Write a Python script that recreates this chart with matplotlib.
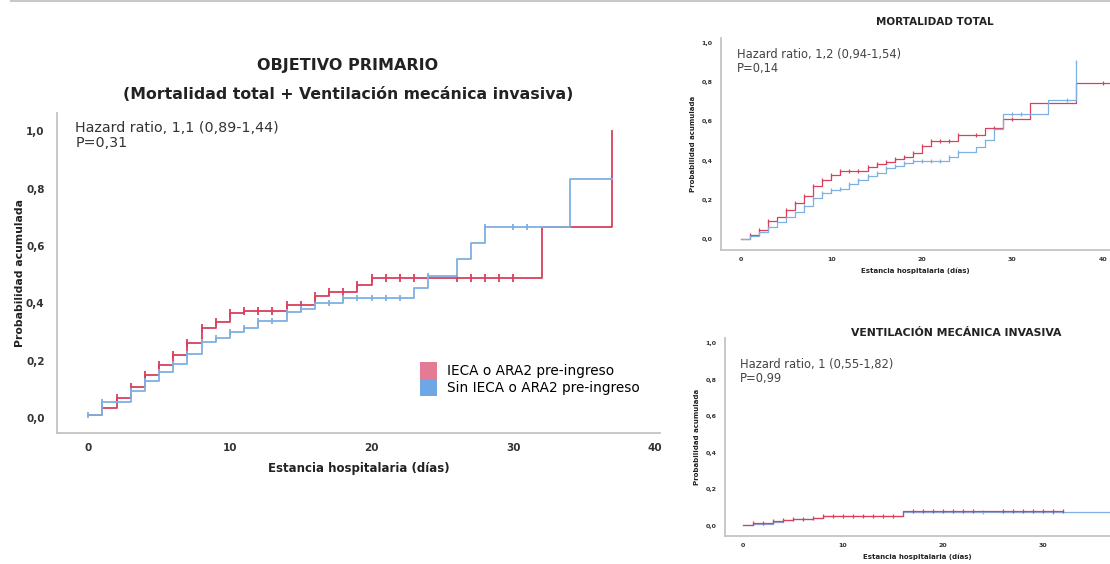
import matplotlib
matplotlib.use("Agg")
import matplotlib.pyplot as plt
from matplotlib.patches import Patch
from matplotlib.lines import Line2D

# --- data ---
# Objetivo primario: mortalidad total + ventilacion mecanica invasiva
prim_red_t = [0, 1, 2, 3, 4, 5, 6, 7, 8, 9, 10, 11, 14, 16, 17, 19, 20, 32, 37]
prim_red_s = [0.012, 0.035, 0.07, 0.11, 0.15, 0.185, 0.22, 0.26, 0.315, 0.335,
              0.365, 0.375, 0.395, 0.425, 0.44, 0.465, 0.49, 0.665, 1.0]
prim_red_cens = [1, 2, 3, 4, 5, 6, 7, 8, 9, 10, 11, 12, 13, 14, 15, 16, 17, 18,
                 19, 20, 21, 22, 23, 26, 27, 28, 29, 30]
prim_blue_t = [0, 1, 3, 4, 5, 6, 7, 8, 9, 10, 11, 12, 14, 15, 16, 18, 23, 24,
               26, 27, 28, 34, 37]
prim_blue_s = [0.012, 0.055, 0.095, 0.13, 0.16, 0.19, 0.225, 0.265, 0.28, 0.30,
               0.315, 0.34, 0.37, 0.38, 0.40, 0.42, 0.455, 0.495, 0.555, 0.61,
               0.665, 0.835, 0.835]
prim_blue_cens = [0, 1, 3, 4, 5, 6, 7, 8, 9, 10, 11, 12, 13, 14, 15, 17, 18,
                  19, 20, 21, 22, 24, 28, 30, 31]

# Mortalidad total
mort_red_t = [0, 1, 2, 3, 4, 5, 6, 7, 8, 9, 10, 11, 14, 15, 16, 17, 18, 19, 20,
              21, 24, 27, 29, 32, 37, 41.5]
mort_red_s = [0.0, 0.02, 0.045, 0.09, 0.115, 0.15, 0.185, 0.22, 0.27, 0.30,
              0.325, 0.345, 0.37, 0.385, 0.395, 0.41, 0.42, 0.44, 0.475, 0.50,
              0.53, 0.565, 0.615, 0.695, 0.795, 0.795]
mort_red_cens = [1, 2, 3, 5, 6, 7, 8, 9, 10, 11, 12, 13, 14, 15, 16, 17, 18, 19,
                 20, 21, 22, 23, 24, 26, 28, 30, 40, 41]
mort_blue_t = [0, 1, 2, 3, 4, 5, 6, 7, 8, 9, 10, 11, 12, 13, 14, 15, 16, 17, 18,
               19, 23, 24, 26, 27, 28, 29, 34, 37]
mort_blue_s = [0.0, 0.015, 0.035, 0.06, 0.085, 0.11, 0.14, 0.17, 0.21, 0.235,
               0.25, 0.255, 0.28, 0.30, 0.32, 0.335, 0.36, 0.375, 0.39, 0.40,
               0.42, 0.445, 0.47, 0.505, 0.56, 0.64, 0.71, 0.905]
mort_blue_cens = [7, 8, 9, 10, 11, 12, 13, 14, 15, 16, 17, 18, 19, 20, 21, 22,
                  23, 24, 30, 31, 36, 37]

# Ventilacion mecanica invasiva
vent_red_t = [0, 1, 3, 4, 5, 7, 8, 16, 32]
vent_red_s = [0.005, 0.015, 0.025, 0.035, 0.04, 0.045, 0.055, 0.083, 0.083]
vent_red_cens = [1, 2, 3, 4, 5, 6, 7, 8, 9, 10, 11, 12, 13, 14, 15, 17, 18, 19,
                 20, 21, 22, 23, 26, 27, 28, 29, 30, 31, 32]
vent_blue_t = [0, 1, 3, 4, 5, 7, 8, 16, 38]
vent_blue_s = [0.005, 0.012, 0.022, 0.032, 0.038, 0.043, 0.053, 0.076, 0.076]
vent_blue_cens = [24, 31]

yticks = [0.0, 0.2, 0.4, 0.6, 0.8, 1.0]
ytick_labels = ["0,0", "0,2", "0,4", "0,6", "0,8", "1,0"]
xticks = [0, 10, 20, 30, 40]
xtick_labels = ["0", "10", "20", "30", "40"]

RED = "#d9405e"
BLUE = "#7fb0e2"
SPINE = "#c4c4c4"


def km(ax, t, s, cens, color, lw, ms):
    ax.step(t, s, where="post", color=color, lw=lw)
    # censor marks sit on the curve value at that time
    ys = []
    for c in cens:
        v = s[0]
        for ti, si in zip(t, s):
            if ti <= c:
                v = si
        ys.append(v)
    ax.plot(cens, ys, ls="none", marker="|", color=color, ms=ms, mew=lw)


def style(ax, xlim, ylim, fs_tick, fs_lab, pad_x, pad_y):
    for side in ("top", "right"):
        ax.spines[side].set_visible(False)
    for side in ("left", "bottom"):
        ax.spines[side].set_color(SPINE)
        ax.spines[side].set_linewidth(1.3)
    ax.set_yticks(yticks)
    ax.set_yticklabels(ytick_labels, fontsize=fs_tick, fontweight="bold", color="#333333")
    ax.set_xticks(xticks)
    ax.set_xticklabels(xtick_labels, fontsize=fs_tick, fontweight="bold", color="#333333")
    # limits after the ticks, otherwise set_xticks widens the view
    ax.set_xlim(*xlim)
    ax.set_ylim(*ylim)
    ax.tick_params(axis="x", length=0, pad=pad_x)
    ax.tick_params(axis="y", length=0, pad=pad_y)
    ax.set_xlabel("Estancia hospitalaria (días)", fontsize=fs_lab, fontweight="bold", color="#222222")
    ax.set_ylabel("Probabilidad acumulada", fontsize=fs_lab, fontweight="bold", color="#222222")


fig = plt.figure(figsize=(11.1, 5.64), dpi=100)
fig.patch.set_facecolor("white")
fig.add_artist(Line2D([0.01, 1.0], [0.998, 0.998], color="#c8c8c8", lw=1.5))

# main panel
ax1 = fig.add_axes([0.0514, 0.2323, 0.543, 0.567])
km(ax1, prim_red_t, prim_red_s, prim_red_cens, RED, 1.3, 6)
km(ax1, prim_blue_t, prim_blue_s, prim_blue_cens, BLUE, 1.3, 5)
style(ax1, (-2.2, 40.35), (-0.052, 1.063), 7.5, 8.5, 7, 9)
ax1.xaxis.labelpad = 7
ax1.yaxis.label.set_fontsize(7.8)
ax1.yaxis.labelpad = 1
fig.text(0.3135, 0.884, "OBJETIVO PRIMARIO", ha="center", va="center",
         fontsize=11.5, fontweight="bold", color="#222222")
fig.text(0.3135, 0.832, "(Mortalidad total + Ventilación mecánica invasiva)",
         ha="center", va="center", fontsize=11.3, fontweight="bold", color="#222222")
ax1.text(0.03, 0.975, "Hazard ratio, 1,1 (0,89-1,44)\nP=0,31", transform=ax1.transAxes,
         ha="left", va="top", fontsize=10.3, color="#333333", linespacing=1.1)
handles = [Patch(facecolor="#e27b93", edgecolor="none"),
           Patch(facecolor="#6fa7e4", edgecolor="none")]
ax1.legend(handles, ["IECA o ARA2 pre-ingreso", "Sin IECA o ARA2 pre-ingreso"],
           loc="lower left", bbox_to_anchor=(0.602, 0.115), frameon=False,
           fontsize=9.8, handlelength=1.25, handleheight=1.55, handletextpad=0.75,
           labelspacing=0.0, borderaxespad=0, borderpad=0)

# mortalidad total
ax2 = fig.add_axes([0.6495, 0.5567, 0.3505, 0.376])
km(ax2, mort_red_t, mort_red_s, mort_red_cens, RED, 0.9, 3.5)
km(ax2, mort_blue_t, mort_blue_s, mort_blue_cens, BLUE, 0.9, 3.5)
style(ax2, (-2.2, 40.8), (-0.056, 1.026), 4.5, 5, 5, 6)
ax2.set_title("MORTALIDAD TOTAL", fontsize=7.5, fontweight="bold", color="#222222",
              x=0.55, pad=9)
ax2.text(0.04, 0.955, "Hazard ratio, 1,2 (0,94-1,54)\nP=0,14", transform=ax2.transAxes,
         ha="left", va="top", fontsize=8.3, color="#444444", linespacing=1.15)

# ventilacion mecanica invasiva
ax3 = fig.add_axes([0.653, 0.0496, 0.347, 0.351])
km(ax3, vent_blue_t, vent_blue_s, vent_blue_cens, BLUE, 0.9, 3.5)
km(ax3, vent_red_t, vent_red_s, vent_red_cens, RED, 0.9, 3.5)
style(ax3, (-1.8, 36.7), (-0.055, 1.027), 4.5, 5, 5, 6)
ax3.set_title("VENTILACIÓN MECÁNICA INVASIVA", fontsize=7.8, fontweight="bold",
              color="#222222", x=0.6, pad=1)
ax3.text(0.04, 0.9, "Hazard ratio, 1 (0,55-1,82)\nP=0,99", transform=ax3.transAxes,
         ha="left", va="top", fontsize=8.3, color="#444444", linespacing=1.1)

fig.savefig("out.png", dpi=100, facecolor="white")
